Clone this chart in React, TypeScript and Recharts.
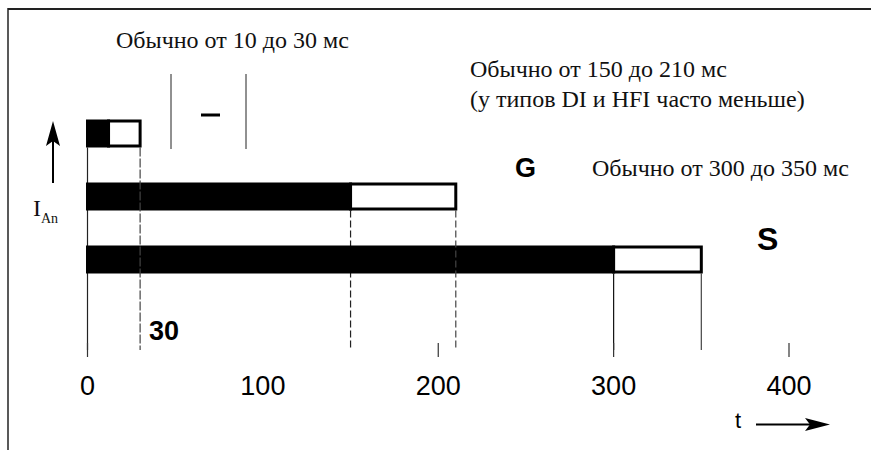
import React from "react";
import { BarChart, Bar, XAxis, YAxis } from "recharts";

// ---- data ----
const categories = ["–", "G", "S"];
const blackPart = [12, 150, 300];
const whitePart = [18, 60, 50];
const xTicks = [0, 100, 200, 300, 400];
const markedTicks = [0, 200, 300, 400];

const captionShort = "Обычно от 10 до 30 мс";
const captionMidLine1 = "Обычно от 150 до 210 мс";
const captionMidLine2 = "(у типов DI и HFI часто меньше)";
const captionLong = "Обычно от 300 до 350 мс";
const shortLabel = "30";
const axisTitleY = "I";
const axisTitleYSub = "An";
const axisTitleX = "t";

const data = categories.map((name, i) => ({
  name,
  black: blackPart[i],
  white: whitePart[i],
}));

// ---- layout / style ----
const W = 871;
const H = 450;
const AXIS_Y = 350;
const BAR_STROKE = 3;
const SERIF = "'Liberation Serif', 'Times New Roman', 'DejaVu Serif', serif";
const SANS = "'Liberation Sans', Arial, 'DejaVu Sans', sans-serif";

// drop-line styles per row
const leftDrop = [true, false, false];
const splitDrop: (null | { dash?: string; color: string })[] = [
  null,
  { dash: "7 3", color: "#222" },
  { color: "#111" },
];
const endDrop: { dash?: string; color: string }[] = [
  { dash: "9 2", color: "#444" },
  { dash: "7 3", color: "#444" },
  { color: "#444" },
];

const BlackShape = (props: any) => {
  const { x, y, width, height, index } = props;
  const bottom = y + height + BAR_STROKE / 2;
  const sp = splitDrop[index];
  return (
    <g>
      {leftDrop[index] && (
        <line x1={x} x2={x} y1={bottom} y2={AXIS_Y} stroke="#222" strokeWidth={1.2} />
      )}
      {sp && (
        <line
          x1={x + width}
          x2={x + width}
          y1={bottom}
          y2={AXIS_Y}
          stroke={sp.color}
          strokeWidth={1.2}
          strokeDasharray={sp.dash}
        />
      )}
      <rect x={x} y={y} width={width} height={height} fill="#000" stroke="#000" strokeWidth={BAR_STROKE} />
    </g>
  );
};

const WhiteShape = (props: any) => {
  const { x, y, width, height, index } = props;
  const bottom = y + height + BAR_STROKE / 2;
  const ed = endDrop[index];
  return (
    <g>
      <line
        x1={x + width}
        x2={x + width}
        y1={bottom}
        y2={AXIS_Y}
        stroke={ed.color}
        strokeWidth={1.2}
        strokeDasharray={ed.dash}
      />
      <rect x={x} y={y} width={width} height={height} fill="#fff" stroke="#000" strokeWidth={BAR_STROKE} />
    </g>
  );
};

const Tick = (props: any) => {
  const { x, payload } = props;
  const v = payload.value;
  return (
    <g>
      {markedTicks.includes(v) && (
        <line x1={x} x2={x} y1={AXIS_Y - 7} y2={AXIS_Y + 7} stroke="#333" strokeWidth={1.2} />
      )}
      <text x={x} y={AXIS_Y + 45} textAnchor="middle" fontFamily={SANS} fontSize={27} fill="#000">
        {v}
      </text>
    </g>
  );
};

export default function App() {
  return (
    <div style={{ position: "absolute", left: 0, top: 0, width: W, height: H, background: "#fff" }}>
      <BarChart
        width={W}
        height={H}
        data={data}
        layout="vertical"
        barSize={25}
        margin={{ top: 100, right: 82, bottom: 0, left: 87.5 }}
      >
        <XAxis
          type="number"
          domain={[0, 400]}
          ticks={xTicks}
          interval={0}
          axisLine={false}
          tickLine={false}
          tick={<Tick />}
          height={100}
        />
        <YAxis type="category" dataKey="name" hide padding={{ top: 2, bottom: 59 }} />
        <Bar dataKey="black" stackId="a" isAnimationActive={false} shape={<BlackShape />} />
        <Bar dataKey="white" stackId="a" isAnimationActive={false} shape={<WhiteShape />} />
      </BarChart>
      <svg
        width={W}
        height={H}
        style={{ position: "absolute", left: 0, top: 0, pointerEvents: "none" }}
      >
        {/* frame */}
        <line x1={8} x2={W} y1={9} y2={9} stroke="#222" strokeWidth={2} />
        <line x1={8} x2={8} y1={8} y2={H} stroke="#222" strokeWidth={1.5} />

        {/* captions */}
        <text x={116} y={48} fontFamily={SERIF} fontSize={24} fill="#111">{captionShort}</text>
        <text x={470} y={77} fontFamily={SERIF} fontSize={24} fill="#111">{captionMidLine1}</text>
        <text x={470} y={107} fontFamily={SERIF} fontSize={24} fill="#111">{captionMidLine2}</text>
        <text x={592} y={176} fontFamily={SERIF} fontSize={24} fill="#111">{captionLong}</text>

        {/* interval marker */}
        <line x1={171} x2={171} y1={74} y2={149} stroke="#222" strokeWidth={1} />
        <line x1={246} x2={246} y1={74} y2={149} stroke="#222" strokeWidth={1} />
        <line x1={201} x2={220} y1={115} y2={115} stroke="#000" strokeWidth={3} />

        {/* row labels */}
        <text x={515} y={177} fontFamily={SANS} fontWeight="bold" fontSize={27} fill="#000">G</text>
        <text x={757} y={250} fontFamily={SANS} fontWeight="bold" fontSize={32} fill="#000">S</text>
        <text x={149} y={340} fontFamily={SANS} fontWeight="bold" fontSize={27} fill="#000">{shortLabel}</text>

        {/* y axis title & arrow */}
        <text x={33} y={216} fontFamily={SERIF} fontSize={24} fill="#111">{axisTitleY}</text>
        <text x={41} y={223} fontFamily={SERIF} fontSize={14} fill="#111">{axisTitleYSub}</text>
        <line x1={53} x2={53} y1={183} y2={140} stroke="#000" strokeWidth={2} />
        <polygon points="53,121 46,146 53,141 60,146" fill="#000" />

        {/* x axis title & arrow */}
        <text x={735} y={428} fontFamily={SANS} fontSize={22} fill="#000">{axisTitleX}</text>
        <line x1={756} x2={810} y1={424.5} y2={424.5} stroke="#000" strokeWidth={2} />
        <polygon points="805,418 830,424.5 805,431 810,424.5" fill="#000" />
      </svg>
    </div>
  );
}
